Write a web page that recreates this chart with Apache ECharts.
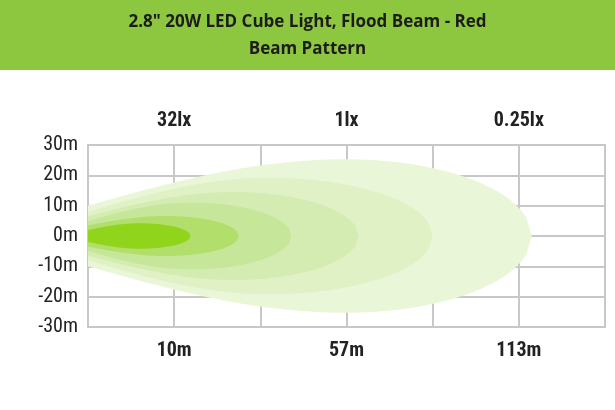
<!DOCTYPE html>
<html>
<head>
<meta charset="utf-8">
<script src="https://cdn.jsdelivr.net/npm/echarts@6/dist/echarts.min.js"></script>
<style>
  html, body { margin: 0; padding: 0; background: #fff; }
  #chart { width: 615px; height: 410px; }
</style>
</head>
<body>
<div id="chart"></div>
<script>
// distance columns (grid units 0..6), labels placed at odd columns
const distanceLabels = {1: '10m', 3: '57m', 5: '113m'};
const luxLabels = {1: '32lx', 3: '1lx', 5: '0.25lx'};
const yTicks = [-30, -20, -10, 0, 10, 20, 30];

// beam contours, outermost first: reach (column units), max half-width (m),
// column of max width, half-width at the lamp (m)
const contourReach = [5.15, 4.0, 3.14, 2.36, 1.75, 1.19];
const contourWidth = [25.3, 19.2, 14.5, 11.0, 6.6, 4.2];
const contourPeakAt = [3.0, 2.1, 1.7, 1.2, 0.9, 0.6];
const contourStart = [10, 8, 6.5, 5, 3.5, 2];
const contourColors = ['#eaf6d8', '#e0f1c6', '#d4ecb1', '#c6e699', '#b2de6c', '#90d51c'];

const chart = echarts.init(document.getElementById('chart'), null, {renderer: 'canvas'});

function beamShape(params, api) {
    const i = params.dataIndex;
    const end = contourReach[i], W = contourWidth[i], xm = contourPeakAt[i], w0 = contourStart[i];
    const top = [], bottom = [];
    const steps = 80;
    for (let k = 0; k <= steps; k++) {
        const x = end * k / steps;
        let w;
        if (x < xm) w = w0 + (W - w0) * Math.sin(Math.PI / 2 * x / xm);
        else w = W * Math.sqrt(Math.max(0, 1 - Math.pow((x - xm) / (end - xm), 2)));
        top.push(api.coord([x, w]));
        bottom.unshift(api.coord([x, -w]));
    }
    return {
        type: 'polygon',
        shape: {points: top.concat(bottom), smooth: 0},
        style: {fill: contourColors[i]}
    };
}

const labelFont = {
    fontFamily: '"Liberation Sans Narrow", "Roboto Condensed", "DejaVu Sans Condensed", sans-serif',
    fontSize: 20,
    color: '#222'
};

chart.setOption({
    backgroundColor: '#fff',
    animation: false,
    graphic: [
        {type: 'rect', shape: {x: 0, y: 0, width: 615, height: 70}, style: {fill: '#8dc740'}},
        {type: 'text', left: 'center', top: 14, style: {
            text: '2.8" 20W LED Cube Light, Flood Beam - Red', fill: '#1c1c1c',
            font: 'bold 17px "Open Sans", sans-serif'}},
        {type: 'text', left: 'center', top: 41, style: {
            text: 'Beam Pattern', fill: '#1c1c1c',
            font: 'bold 17px "Open Sans", sans-serif'}}
    ],
    grid: {left: 88, right: 10, top: 145, bottom: 83, show: true, borderColor: '#c8c8c8', borderWidth: 2},
    xAxis: [
        {type: 'value', min: 0, max: 6, interval: 1, position: 'bottom',
         axisLine: {show: false}, axisTick: {show: false},
         splitLine: {show: true, lineStyle: {color: '#c8c8c8', width: 2}},
         axisLabel: Object.assign({fontWeight: 'bold', margin: 14,
             formatter: v => distanceLabels[v] || ''}, labelFont)},
        {type: 'value', min: 0, max: 6, interval: 1, position: 'top',
         axisLine: {show: false}, axisTick: {show: false}, splitLine: {show: false},
         axisLabel: Object.assign({fontWeight: 'bold', margin: 14,
             formatter: v => luxLabels[v] || ''}, labelFont)}
    ],
    yAxis: {
        type: 'value', min: yTicks[0], max: yTicks[yTicks.length - 1], interval: 10,
        axisLine: {show: false}, axisTick: {show: false},
        splitLine: {show: true, lineStyle: {color: '#c8c8c8', width: 2}},
        axisLabel: Object.assign({margin: 10, formatter: v => v + 'm'}, labelFont)
    },
    series: [{
        type: 'custom',
        renderItem: beamShape,
        data: contourReach.map((r, i) => [i]),
        z: 5,
        clip: true
    }]
});
</script>
</body>
</html>
